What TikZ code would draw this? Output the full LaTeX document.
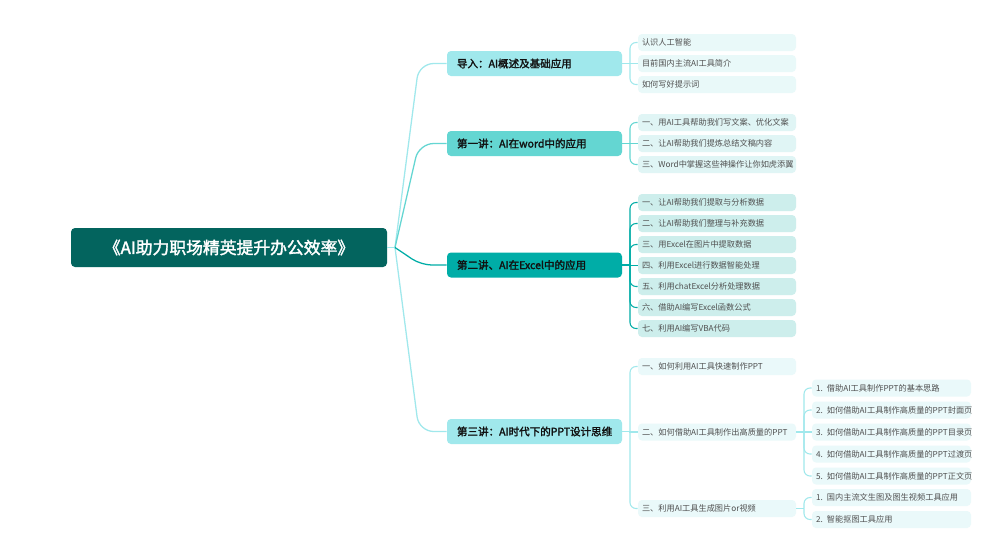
\documentclass[tikz,border=0pt]{standalone}
\usepackage{fontspec}
\newfontfamily\cjk{Noto Sans CJK SC}[AutoFakeBold=2]
\definecolor{cRoot}{HTML}{03645E}
\definecolor{cA}{HTML}{A0E8EC}
\definecolor{cB}{HTML}{64D6D2}
\definecolor{cC}{HTML}{00ADA7}
\definecolor{fA}{HTML}{E9F9F9}
\definecolor{fB}{HTML}{E0F5F5}
\definecolor{fC}{HTML}{CDEEEC}
\definecolor{fD}{HTML}{EAF9FA}
\definecolor{tLeaf}{HTML}{505050}
\definecolor{tBr}{HTML}{111111}
\begin{document}
\begin{tikzpicture}[x=0.75pt,y=-0.75pt,
  rootbox/.style={fill=cRoot, rounded corners=3pt, minimum width=237pt, minimum height=29.25pt,
    inner sep=0pt, text=white, font=\cjk\bfseries\fontsize{12.6}{14}\selectfont},
  brbox/.style={rounded corners=3pt, minimum height=18.75pt, text width=116.25pt, inner xsep=7.5pt,
    inner ysep=0pt, align=left, text=tBr, font=\cjk\bfseries\fontsize{7.9}{9}\selectfont,
    execute at begin node={\hbox\bgroup}, execute at end node={\egroup}},
  leafbox/.style={rounded corners=3pt, minimum height=12.75pt, text width=112.5pt, inner xsep=3pt,
    inner ysep=0pt, align=left, text=tLeaf, font=\cjk\fontsize{6.15}{7}\selectfont,
    execute at begin node={\hbox\bgroup}, execute at end node={\egroup}},
  subbox/.style={leafbox, text width=113.25pt},
  rline/.style={line width=0.95pt, rounded corners=11pt},
  bline/.style={line width=0.8pt},
  bcurve/.style={line width=0.8pt, rounded corners=4.5pt}
]
\useasboundingbox (0,0) rectangle (1004,540);
\fill[white] (0,0) rectangle (1004,540);

% root
\node[rootbox] (root) at (229,247.5) {《AI助力职场精英提升办公效率》};

% branches
\node[brbox, fill=cA] (b1) at (534.5,63.5) {导入：AI概述及基础应用};
\node[brbox, fill=cB] (b2) at (534.5,143.5) {第一讲：AI在word中的应用};
\node[brbox, fill=cC] (b3) at (534.5,265) {第二讲、AI在Excel中的应用};
\node[brbox, fill=cA] (b4) at (534.5,431.5) {第三讲：AI时代下的PPT设计思维};

% leaves of b1
\node[leafbox, fill=fA] (l11) at (717,42.5) {认识人工智能};
\node[leafbox, fill=fA] (l12) at (717,63.5) {目前国内主流AI工具简介};
\node[leafbox, fill=fA] (l13) at (717,84.5) {如何写好提示词};
% leaves of b2
\node[leafbox, fill=fB] (l21) at (717,122.5) {一、用AI工具帮助我们写文案、优化文案};
\node[leafbox, fill=fB] (l22) at (717,143.5) {二、让AI帮助我们提炼总结文稿内容};
\node[leafbox, fill=fB] (l23) at (717,164.5) {三、Word中掌握这些神操作让你如虎添翼};
% leaves of b3
\node[leafbox, fill=fC] (l31) at (717,202.5) {一、让AI帮助我们提取与分析数据};
\node[leafbox, fill=fC] (l32) at (717,223.5) {二、让AI帮助我们整理与补充数据};
\node[leafbox, fill=fC] (l33) at (717,244.5) {三、用Excel在图片中提取数据};
\node[leafbox, fill=fC] (l34) at (717,265.5) {四、利用Excel进行数据智能处理};
\node[leafbox, fill=fC] (l35) at (717,286.5) {五、利用chatExcel分析处理数据};
\node[leafbox, fill=fC] (l36) at (717,307.5) {六、借助AI编写Excel函数公式};
\node[leafbox, fill=fC] (l37) at (717,328.5) {七、利用AI编写VBA代码};
% leaves of b4
\node[leafbox, fill=fD] (l41) at (717,366.5) {一、如何利用AI工具快速制作PPT};
\node[leafbox, fill=fD] (l42) at (717,432) {二、如何借助AI工具制作出高质量的PPT};
\node[leafbox, fill=fD] (l43) at (717,508.5) {三、利用AI工具生成图片or视频};
% sub leaves
\node[subbox, fill=fD] (s1) at (891.5,388) {1. 借助AI工具制作PPT的基本思路};
\node[subbox, fill=fD] (s2) at (891.5,410) {2. 如何借助AI工具制作高质量的PPT封面页};
\node[subbox, fill=fD] (s3) at (891.5,432) {3. 如何借助AI工具制作高质量的PPT目录页};
\node[subbox, fill=fD] (s4) at (891.5,454) {4. 如何借助AI工具制作高质量的PPT过渡页};
\node[subbox, fill=fD] (s5) at (891.5,476) {5. 如何借助AI工具制作高质量的PPT正文页};
\node[subbox, fill=fD] (s6) at (891.5,497.5) {1. 国内主流文生图及图生视频工具应用};
\node[subbox, fill=fD] (s7) at (891.5,519.5) {2. 智能抠图工具应用};

% root connectors
\coordinate (rj) at (395,247.5);
\draw[bline, draw=cA] (root.east) -- (rj);
\draw[rline, draw=cA] (rj) -- (419,63.5) -- (b1.west);
\draw[rline, draw=cB] (rj) -- (419,143.5) -- (b2.west);
\draw[rline, draw=cA] (rj) -- (419,431.5) -- (b4.west);
\draw[rline, draw=cC, rounded corners=8pt] (rj) -- (421,265) -- (b3.west);

% b1 bracket
\coordinate (j1) at (630,63.5);
\draw[bline, draw=cA] (b1.east) -- (j1) -- (l12.west);
\draw[bcurve, draw=cA] (j1) |- (l11.west);
\draw[bcurve, draw=cA] (j1) |- (l13.west);
% b2 bracket
\coordinate (j2) at (630,143.5);
\draw[bline, draw=cB] (b2.east) -- (j2) -- (l22.west);
\draw[bcurve, draw=cB] (j2) |- (l21.west);
\draw[bcurve, draw=cB] (j2) |- (l23.west);
% b3 bracket
\coordinate (j3) at (630,265);
\draw[bline, draw=cC] (b3.east) -- (j3);
\foreach \n in {l31,l32,l33,l35,l36,l37} {\draw[bcurve, draw=cC] (j3) |- (\n.west);}
\draw[bline, draw=cC] (j3) |- (l34.west);
% b4 bracket
\coordinate (j4) at (630,431.5);
\draw[bline, draw=cA] (b4.east) -- (j4) |- (l42.west);
\draw[bcurve, draw=cA] (j4) |- (l41.west);
\draw[bcurve, draw=cA] (j4) |- (l43.west);
% l42 bracket
\coordinate (j5) at (804,432);
\draw[bline, draw=cA] (l42.east) -- (j5) -- (s3.west);
\foreach \n in {s1,s2,s4,s5} {\draw[bcurve, draw=cA] (j5) |- (\n.west);}
% l43 bracket
\coordinate (j6) at (804,508.5);
\draw[bline, draw=cA] (l43.east) -- (j6);
\draw[bcurve, draw=cA] (j6) |- (s6.west);
\draw[bcurve, draw=cA] (j6) |- (s7.west);
\end{tikzpicture}
\end{document}
